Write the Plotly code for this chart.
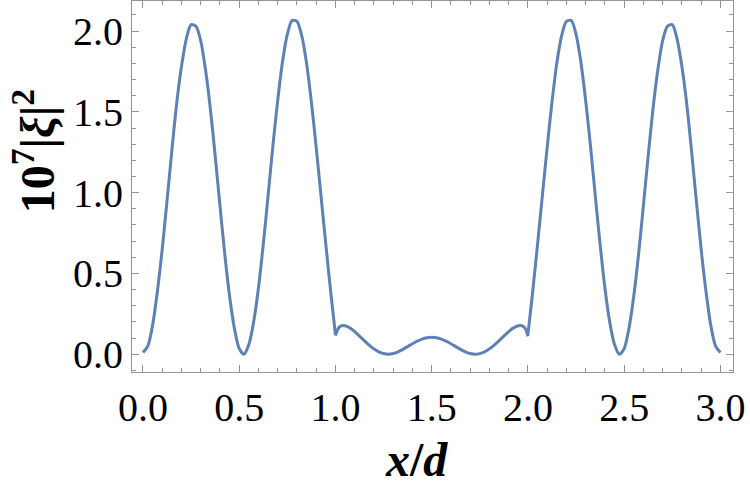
import plotly.graph_objects as go

# Segment 0 <= x/d <= 1
x_seg1 = [0.0, 0.025, 0.05, 0.075, 0.1, 0.125, 0.15, 0.175, 0.2, 0.225, 0.25, 0.275,
          0.3, 0.325, 0.35, 0.375, 0.4, 0.425, 0.45, 0.475, 0.5, 0.525, 0.55, 0.575,
          0.6, 0.625, 0.65, 0.675, 0.7, 0.725, 0.75, 0.775, 0.8, 0.825, 0.85, 0.875,
          0.9, 0.925, 0.95, 0.975, 0.99, 1.0]
y_seg1 = [0.01, 0.05, 0.18, 0.39, 0.65, 0.95, 1.26, 1.55, 1.78, 1.95, 2.04, 2.03,
          1.94, 1.76, 1.52, 1.23, 0.92, 0.62, 0.36, 0.16, 0.035, 0.0, 0.06, 0.20,
          0.41, 0.68, 0.98, 1.29, 1.57, 1.81, 1.98, 2.065, 2.06, 1.97, 1.80, 1.56,
          1.28, 0.98, 0.68, 0.39, 0.23, 0.12]

# Segment 1 <= x/d <= 2
x_seg2 = [1.0, 1.01, 1.02, 1.035, 1.05, 1.075, 1.1, 1.125, 1.15, 1.175, 1.2, 1.225,
          1.25, 1.275, 1.3, 1.325, 1.35, 1.375, 1.4, 1.425, 1.45, 1.475, 1.5, 1.525,
          1.55, 1.575, 1.6, 1.625, 1.65, 1.675, 1.7, 1.725, 1.75, 1.775, 1.8, 1.825,
          1.85, 1.875, 1.9, 1.925, 1.95, 1.965, 1.98, 1.99, 2.0]
y_seg2 = [0.115, 0.15, 0.168, 0.178, 0.176, 0.163, 0.14, 0.112, 0.084, 0.057, 0.033, 0.015,
          0.004, 0.0, 0.004, 0.014, 0.03, 0.047, 0.065, 0.081, 0.094, 0.102, 0.105, 0.102,
          0.094, 0.081, 0.065, 0.047, 0.03, 0.014, 0.004, 0.0, 0.004, 0.015, 0.033, 0.057,
          0.084, 0.112, 0.14, 0.163, 0.176, 0.178, 0.168, 0.15, 0.11]

# Segment 2 <= x/d <= 3
x_seg3 = [2.0, 2.01, 2.025, 2.05, 2.075, 2.1, 2.125, 2.15, 2.175, 2.2, 2.225, 2.25,
          2.275, 2.3, 2.325, 2.35, 2.375, 2.4, 2.425, 2.45, 2.475, 2.5, 2.525, 2.55,
          2.575, 2.6, 2.625, 2.65, 2.675, 2.7, 2.725, 2.75, 2.775, 2.8, 2.825, 2.85,
          2.875, 2.9, 2.925, 2.95, 2.975, 3.0]
y_seg3 = [0.12, 0.23, 0.39, 0.68, 0.98, 1.28, 1.56, 1.80, 1.97, 2.06, 2.065, 1.98,
          1.81, 1.57, 1.29, 0.98, 0.68, 0.41, 0.20, 0.06, 0.0, 0.035, 0.16, 0.36,
          0.62, 0.92, 1.23, 1.52, 1.76, 1.94, 2.03, 2.04, 1.95, 1.78, 1.55, 1.26,
          0.95, 0.65, 0.39, 0.18, 0.05, 0.01]

x_ticks = [0.0, 0.5, 1.0, 1.5, 2.0, 2.5, 3.0]
y_ticks = [0.0, 0.5, 1.0, 1.5, 2.0]

LINE = "#5E81B5"
FRAME = "#959595"
FONT = "Liberation Serif"

fig = go.Figure()
for xs, ys in [(x_seg1, y_seg1), (x_seg2, y_seg2), (x_seg3, y_seg3)]:
    fig.add_trace(go.Scatter(x=xs, y=ys, mode="lines",
                             line=dict(color=LINE, width=3, shape="spline", smoothing=0.8),
                             showlegend=False, hoverinfo="skip"))

axis_common = dict(showgrid=False, zeroline=False, showline=True, linecolor=FRAME,
                   linewidth=1.2, mirror="allticks", ticks="inside", ticklen=7,
                   tickwidth=1, tickcolor=FRAME, tickformat=".1f",
                   tickfont=dict(family=FONT, size=40, color="black"))

fig.update_xaxes(range=[-0.057, 3.0655], tickvals=x_ticks,
                 minor=dict(dtick=0.1, tick0=0, ticks="inside", ticklen=4, tickcolor=FRAME, tickwidth=1),
                 **axis_common)
fig.update_yaxes(range=[-0.110, 2.186], tickvals=y_ticks,
                 minor=dict(dtick=0.1, tick0=0, ticks="inside", ticklen=4, tickcolor=FRAME, tickwidth=1),
                 **axis_common)

fig.add_annotation(text="<b><i>x</i>/<i>d</i></b>", xref="paper", yref="paper",
                   x=0.473, y=-0.235, xanchor="center", yanchor="middle", showarrow=False,
                   font=dict(family=FONT, size=48, color="black"))
fig.add_annotation(text="<b>10<sup>7</sup>|<i>ξ</i>|<sup>2</sup></b>", xref="paper", yref="paper",
                   x=-0.163, y=0.595, xanchor="center", yanchor="middle", textangle=-90,
                   showarrow=False, font=dict(family=FONT, size=48, color="black"))

fig.update_layout(width=750, height=496, margin=dict(l=132, r=17, t=1, b=124),
                  paper_bgcolor="white", plot_bgcolor="white")

fig.write_html("out.html")
